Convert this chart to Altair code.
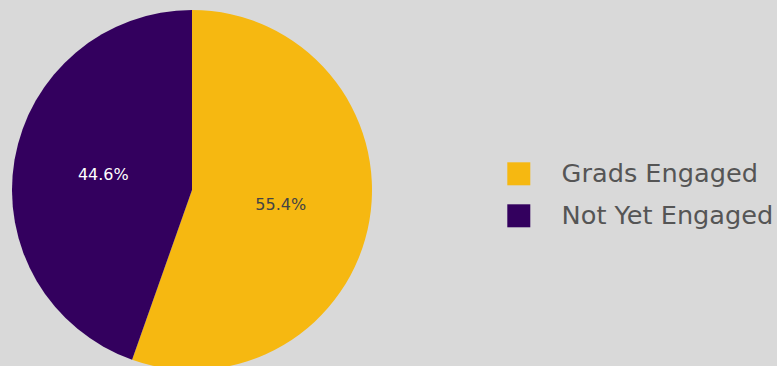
import altair as alt
import pandas as pd

categories = ["Grads Engaged", "Not Yet Engaged"]
values = [55.4, 44.6]
labels = ["55.4%", "44.6%"]
colors = ["#F6B811", "#33005E"]
label_colors = ["#444444", "#FFFFFF"]

df = pd.DataFrame({"category": categories, "value": values, "label": labels,
                   "order": [0, 1], "lc": label_colors})

base = alt.Chart(df).encode(
    theta=alt.Theta("value:Q", stack=True),
    order=alt.Order("order:Q"),
)

pie = base.mark_arc(x=192, y=190, radius=180).encode(
    color=alt.Color("category:N", scale=alt.Scale(domain=categories, range=colors),
                    legend=alt.Legend(title=None, orient="none", legendX=506, legendY=161,
                                      symbolType="square", symbolSize=529,
                                      symbolStrokeWidth=0, labelFontSize=25.6,
                                      labelFont="DejaVu Sans", labelColor="#555555",
                                      labelOffset=30, rowPadding=15, labelLimit=400,
                                      symbolOpacity=1)),
)

text = base.mark_text(x=192, y=190, radius=90, font="DejaVu Sans", fontSize=16).encode(
    text="label:N",
    color=alt.Color("lc:N", scale=None),
)

chart = (pie + text).properties(
    width=777, height=366, background="#D9D9D9",
    autosize=alt.AutoSizeParams(type="none"), padding=0,
).configure_view(stroke=None)

chart.save("out.html", embed_options={"renderer": "svg", "actions": False})
